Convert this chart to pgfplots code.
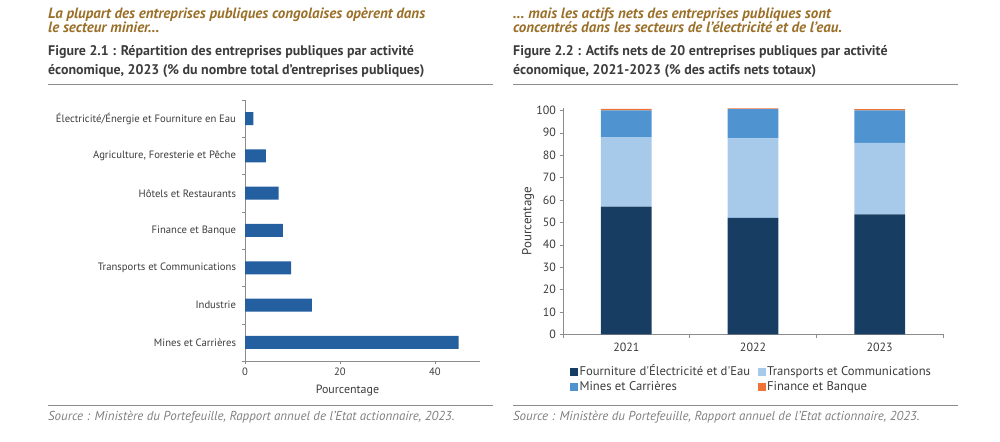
\documentclass[border=0pt]{standalone}
\usepackage{fontspec}
\setmainfont{PT Sans}
\usepackage{pgfplots}
\pgfplotsset{compat=1.18}

\definecolor{titlebrown}{HTML}{9A6F28}
\definecolor{txtgray}{HTML}{3C3C3C}
\definecolor{axgray}{HTML}{8C8C8C}
\definecolor{srcgray}{HTML}{808080}
\definecolor{barblue}{HTML}{2460A0}
\definecolor{navy}{HTML}{173D63}
\definecolor{lightblue}{HTML}{A7C9EA}
\definecolor{midblue}{HTML}{4F94D0}
\definecolor{orangec}{HTML}{F07236}

\pgfplotsset{
  common/.style={
    scale only axis,
    axis lines*=left,
    axis line style={axgray},
    every tick/.style={axgray},
    tick align=outside,
    major tick length=3.5bp,
    minor tick length=3.5bp,
    /pgf/number format/assume math mode=true,
    ticklabel style={text=txtgray},
    label style={text=txtgray},
  },
}

\begin{document}
\begin{tikzpicture}[x=1bp,y=1bp]
\useasboundingbox (0,0) rectangle (1000,442);

% --- headers
\begin{scope}[every node/.style={anchor=base west, inner sep=0}]
\node[font=\fontsize{15}{16}\selectfont\bfseries\itshape, text=titlebrown] at (48,423.5) {La plupart des entreprises publiques congolaises opèrent dans};
\node[font=\fontsize{15}{16}\selectfont\bfseries\itshape, text=titlebrown] at (48,409) {le secteur minier…};
\node[font=\fontsize{14}{16}\selectfont\bfseries, text=txtgray] at (48,386) {Figure 2.1 : Répartition des entreprises publiques par activité};
\node[font=\fontsize{14}{16}\selectfont\bfseries, text=txtgray] at (48,367) {économique, 2023 (\% du nombre total d’entreprises publiques)};
\node[font=\fontsize{13}{15}\selectfont\itshape, text=srcgray] at (48,21) {Source : Ministère du Portefeuille, Rapport annuel de l’Etat actionnaire, 2023.};
\node[font=\fontsize{15}{16}\selectfont\bfseries\itshape, text=titlebrown] at (513,423.5) {… mais les actifs nets des entreprises publiques sont};
\node[font=\fontsize{15}{16}\selectfont\bfseries\itshape, text=titlebrown] at (513,409) {concentrés dans les secteurs de l’électricité et de l’eau.};
\node[font=\fontsize{14}{16}\selectfont\bfseries, text=txtgray] at (513,386) {Figure 2.2 : Actifs nets de 20 entreprises publiques par activité};
\node[font=\fontsize{14}{16}\selectfont\bfseries, text=txtgray] at (513,367) {économique, 2021-2023 (\% des actifs nets totaux)};
\node[font=\fontsize{13}{15}\selectfont\itshape, text=srcgray] at (513,21) {Source : Ministère du Portefeuille, Rapport annuel de l’Etat actionnaire, 2023.};
\end{scope}
\draw[axgray, line width=1bp] (48,357) -- (493,357);
\draw[axgray, line width=1bp] (513,357) -- (958,357);
\draw[axgray, line width=0.8bp] (48,37) -- (493,37);
\draw[axgray, line width=0.8bp] (513,37) -- (958,37);

% --- Figure 2.1
\begin{axis}[common,
  at={(245bp,81bp)}, anchor=south west,
  width=235bp, height=261bp,
  xbar, bar width=13bp,
  xmin=0, xmax=49.5, ymin=-0.5, ymax=6.5,
  ticklabel style={font=\fontsize{10.7}{12}\selectfont},
  label style={font=\fontsize{12}{14}\selectfont},
  xtick={0,20,40},
  ytick={0,...,6},
  yticklabels={Mines et Carrières, Industrie, Transports et Communications,
    Finance et Banque, Hôtels et Restaurants, {Agriculture, Foresterie et Pêche},
    Électricité/Énergie et Fourniture en Eau},
  major y tick style={draw=none},
  minor ytick={-0.5,0.5,...,6.5},
  yticklabel style={xshift=-2bp},
  xlabel={Pourcentage},
  xlabel style={at={(axis description cs:0.436,-0.114)}, anchor=center},
]
\addplot[fill=barblue, draw=none] coordinates {
  (45,0) (14.1,1) (9.7,2) (8.0,3) (7.1,4) (4.4,5) (1.75,6)
};
\end{axis}

% --- Figure 2.2
\begin{axis}[common,
  at={(563bp,107.7bp)}, anchor=south west,
  width=380bp, height=226.2bp,
  ybar stacked, bar width=50.7bp,
  clip=false,
  xmin=-0.5, xmax=2.5, ymin=0, ymax=101,
  ticklabel style={font=\fontsize{12}{14}\selectfont},
  label style={font=\fontsize{13}{15}\selectfont},
  ytick={0,10,...,100},
  xtick={0,1,2}, xticklabels={2021,2022,2023},
  major x tick style={draw=none},
  minor xtick={-0.5,0.5,1.5,2.5},
  xticklabel style={yshift=-1.5bp},
  ylabel={Pourcentage},
  ylabel style={at={(axis description cs:-0.092,0.5)}, anchor=center},
  legend columns=2,
  legend cell align=left,
  legend image code/.code={\fill[#1] (0bp,-3.5bp) rectangle (8bp,4.5bp);},
  legend style={at={(axis description cs:0.018,-0.133)}, anchor=north west,
    draw=none, fill=none, inner sep=0pt, row sep=0bp,
    font=\fontsize{12.7}{14}\selectfont, text=txtgray,
    nodes={inner sep=1.5bp, text height=9bp, text depth=3bp},
    /tikz/every even column/.append style={column sep=6bp}},
]
\addplot[fill=navy, draw=none] coordinates {(0,57) (1,52) (2,53.5)};
\addplot[fill=lightblue, draw=none] coordinates {(0,31) (1,35.5) (2,32)};
\addplot[fill=midblue, draw=none] coordinates {(0,12) (1,13) (2,14.5)};
\addplot[fill=orangec, draw=none] coordinates {(0,0.6) (1,0.4) (2,0.5)};
\legend{Fourniture d\textquotesingle Électricité et d\textquotesingle Eau, Transports et Communications, Mines et Carrières, Finance et Banque}
\end{axis}
\end{tikzpicture}
\end{document}
